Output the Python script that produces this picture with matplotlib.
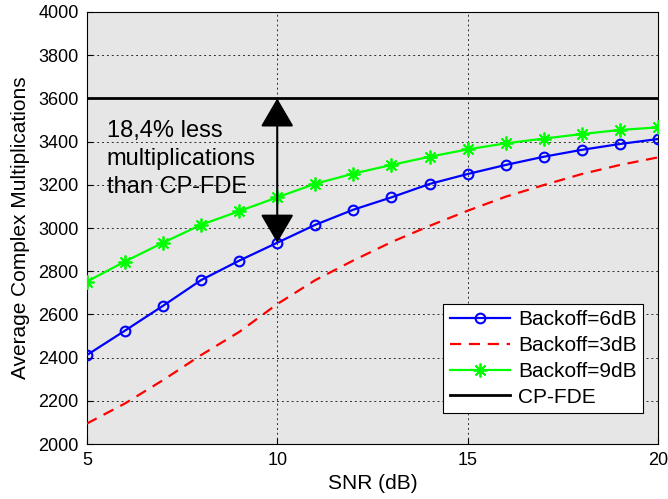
import numpy as np
import matplotlib
matplotlib.use('Agg')
import matplotlib.pyplot as plt

plt.rcParams['font.family'] = ['Liberation Sans', 'DejaVu Sans']

snr = [5, 6, 7, 8, 9, 10, 11, 12, 13, 14, 15, 16, 17, 18, 19, 20]
backoff6 = [2412, 2525, 2640, 2759, 2849, 2932, 3015, 3085, 3142, 3204, 3250, 3292, 3330, 3362, 3389, 3412]
backoff3 = [2095, 2188, 2296, 2412, 2519, 2648, 2759, 2850, 2935, 3010, 3080, 3145, 3199, 3250, 3292, 3327]
backoff9 = [2752, 2845, 2932, 3015, 3078, 3142, 3205, 3252, 3292, 3330, 3364, 3392, 3414, 3435, 3454, 3466]
cpfde = 3600

fig = plt.figure(figsize=(6.68, 4.99), dpi=100)
ax = fig.add_axes([0.130, 0.110, 0.855, 0.866])
ax.set_facecolor('#e6e6e6')

ax.plot(snr, backoff6, color='#0000ff', lw=1.6, marker='o', ms=7, mfc='none',
        mew=1.5, label='Backoff=6dB', zorder=3)
ax.plot(snr, backoff3, color='#ff0000', lw=1.6, ls=(0, (5, 3.5)), label='Backoff=3dB', zorder=3)
ax.plot(snr, backoff9, color='#00ff00', lw=1.6, marker=(8, 2, 0), ms=10, mew=1.3,
        label='Backoff=9dB', zorder=3)
ax.axhline(cpfde, color='black', lw=2.0, label='CP-FDE', zorder=3)

# double-headed arrow between CP-FDE and the 6dB curve at 10 dB
ax.annotate('', xy=(10, backoff6[5]), xytext=(10, cpfde),
            arrowprops=dict(arrowstyle='<|-|>,head_length=1.2,head_width=0.7',
                            mutation_scale=15, color='black', lw=1.5,
                            shrinkA=0, shrinkB=0), zorder=4)
ax.text(5.52, 3320, '18,4% less\nmultiplications\nthan CP-FDE', fontsize=17,
        va='center', ha='left', linespacing=1.35, zorder=4)

ax.set_xlim(5, 20)
ax.set_ylim(2000, 4000)
ax.set_xticks([5, 10, 15, 20])
ax.set_yticks(np.arange(2000, 4001, 200))
ax.grid(True, color='black', ls=(0, (2, 3)), lw=0.7, alpha=0.8)
ax.tick_params(direction='in', labelsize=13, length=4, pad=6)
for s in ax.spines.values():
    s.set_linewidth(0.8)

ax.set_xlabel('SNR (dB)', fontsize=15, labelpad=3)
ax.set_ylabel('Average Complex Multiplications', fontsize=15, labelpad=6)

leg = ax.legend(loc='lower right', bbox_to_anchor=(0.974, 0.072), borderaxespad=0,
                fontsize=15, fancybox=False, framealpha=1, edgecolor='black',
                handlelength=2.9, borderpad=0.3, labelspacing=0.33, handletextpad=0.4)
leg.get_frame().set_linewidth(0.8)

fig.savefig('out.png', dpi=100)
